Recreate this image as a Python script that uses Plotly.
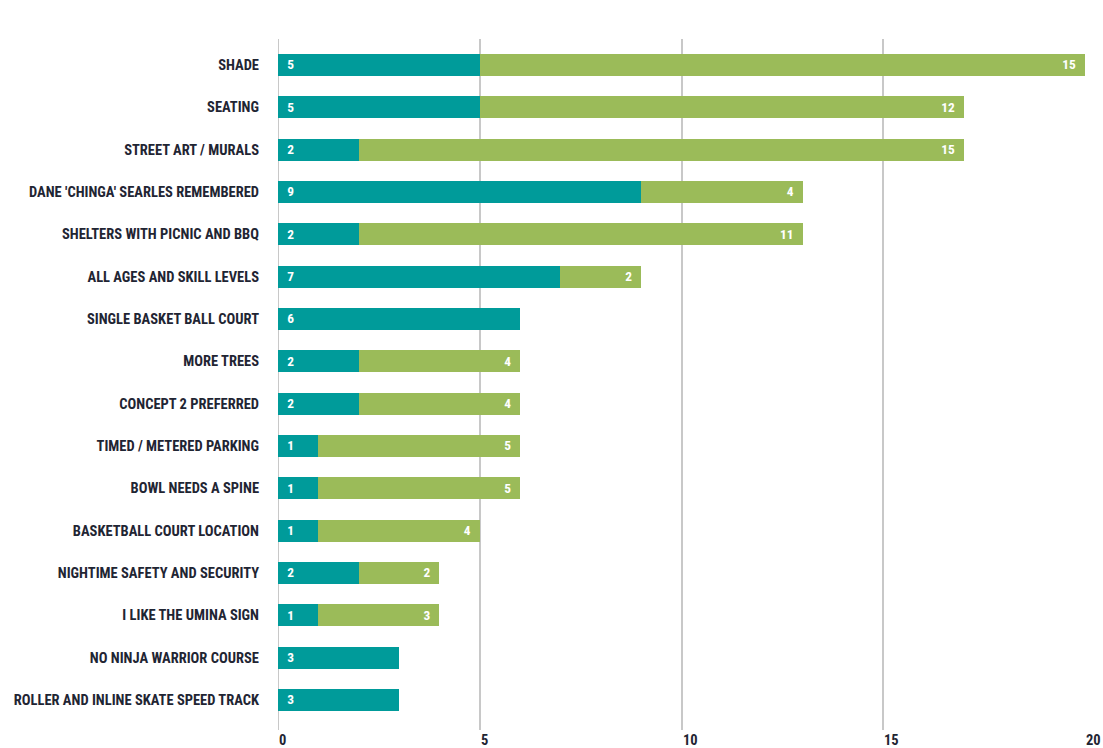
import plotly.graph_objects as go

categories = [
    "SHADE", "SEATING", "STREET ART / MURALS", "DANE 'CHINGA' SEARLES REMEMBERED",
    "SHELTERS WITH PICNIC AND BBQ", "ALL AGES AND SKILL LEVELS", "SINGLE BASKET BALL COURT",
    "MORE TREES", "CONCEPT 2 PREFERRED", "TIMED / METERED PARKING", "BOWL NEEDS A SPINE",
    "BASKETBALL COURT LOCATION", "NIGHTIME SAFETY AND SECURITY", "I LIKE THE UMINA SIGN",
    "NO NINJA WARRIOR COURSE", "ROLLER AND INLINE SKATE SPEED TRACK",
]
teal_values = [5, 5, 2, 9, 2, 7, 6, 2, 2, 1, 1, 1, 2, 1, 3, 3]
green_values = [15, 12, 15, 4, 11, 2, 0, 4, 4, 5, 5, 4, 2, 3, 0, 0]
x_ticks = [0, 5, 10, 15, 20]

FONT = "Roboto"
DARK = "#1f2533"
TEAL = "#009b9a"
GREEN = "#9bbb59"
NB = "\u00a0"


def cond(s):
    return f'<span style="font-stretch:condensed">{s}</span>'


fig = go.Figure()
fig.add_trace(go.Bar(
    y=categories, x=teal_values, orientation="h", marker=dict(color=TEAL, line=dict(width=0)),
    text=[cond(NB * 2 + str(v)) if v else "" for v in teal_values],
    textposition="inside", insidetextanchor="start", textangle=0,
    textfont=dict(family=FONT, size=15, color="white", weight="bold"),
    hoverinfo="skip",
))
fig.add_trace(go.Bar(
    y=categories, x=green_values, orientation="h", marker=dict(color=GREEN, line=dict(width=0)),
    text=[cond(str(v) + NB * 2) if v else "" for v in green_values],
    textposition="inside", insidetextanchor="end", textangle=0,
    textfont=dict(family=FONT, size=15, color="white", weight="bold"),
    hoverinfo="skip",
))

for v in x_ticks:
    fig.add_annotation(
        x=v, xref="x", y=0, yref="paper", yanchor="middle", xanchor="left",
        yshift=-10, xshift=-1, text=cond(str(v)), showarrow=False,
        font=dict(family=FONT, size=14.5, color=DARK, weight="bold"),
    )

n = len(categories)
fig.update_layout(
    barmode="stack", bargap=0.48, showlegend=False,
    width=1103, height=748,
    margin=dict(l=278, r=18, t=39, b=18, autoexpand=False),
    paper_bgcolor="white", plot_bgcolor="white",
    uniformtext=dict(mode=False),
    xaxis=dict(range=[0, 20], tickvals=x_ticks, showticklabels=False, showgrid=True,
               gridcolor="#c8c8c8", gridwidth=2, zeroline=False, showline=False, ticks="",
               automargin=False),
    yaxis=dict(categoryorder="array", categoryarray=categories,
               tickmode="array", tickvals=categories, ticktext=[cond(c) for c in categories],
               range=[n - 1 + 0.71, -0.61], ticks="", ticklabelstandoff=18, automargin=False,
               tickfont=dict(family=FONT, size=14.5, color=DARK, weight="bold"),
               showgrid=False, zeroline=False, showline=False),
)
fig.add_shape(type="line", xref="x", yref="paper", x0=0, x1=0, y0=0, y1=1,
              line=dict(color="#c8c8c8", width=2), layer="below")

fig.write_html("out.html", config={"displayModeBar": False},
               post_script="document.body.style.margin='0';")
